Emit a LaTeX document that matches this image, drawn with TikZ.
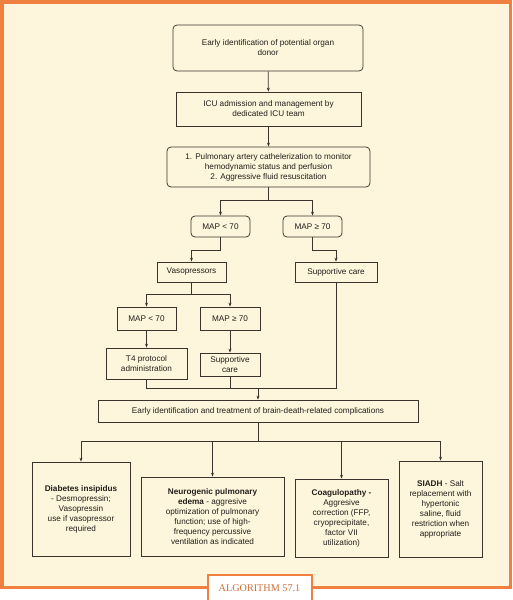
\documentclass[tikz,border=0pt]{standalone}
\usepackage{fontspec}
\setmainfont{Liberation Sans}
\newfontfamily\labelfont{Liberation Serif}
\usetikzlibrary{arrows.meta,calc}
\definecolor{cream}{RGB}{253,246,220}
\definecolor{frameorange}{RGB}{240,128,64}
\definecolor{inkc}{RGB}{60,52,44}
\definecolor{textc}{RGB}{35,30,26}
\tikzset{
  box/.style={draw=inkc, line width=0.75pt, align=center, inner sep=2pt,
    font=\fontsize{8.2}{10}\selectfont, text=textc},
  rbox/.style={box, rounded corners=4pt},
  arr/.style={draw=inkc, line width=0.75pt, -{Stealth[length=4pt,width=3pt]}},
  ln/.style={draw=inkc, line width=0.75pt},
}
\begin{document}
\begin{tikzpicture}[x=1pt,y=-1pt]
\useasboundingbox (0,0) rectangle (512,600);
\fill[white] (0,0) rectangle (512,600);
\draw[frameorange, line width=3.5pt, fill=cream] (1.75,1.75) rectangle (510.25,587.25);

\node[rbox, minimum width=190, minimum height=46] (b1) at (268,48) {Early identification of potential organ\\donor};
\node[box, minimum width=185, minimum height=34] (b2) at (268.5,109) {ICU admission and management by\\dedicated ICU team};
\node[rbox, minimum width=203, minimum height=40] (b3) at (268.5,167) {1. Pulmonary artery cathelerization to monitor\\hemodynamic status and perfusion\\2. Aggressive fluid resuscitation};
\node[rbox, minimum width=59, minimum height=21] (m1) at (220.5,226.5) {MAP {<} 70};
\node[rbox, minimum width=59, minimum height=21] (m2) at (312.5,226.5) {MAP ≥ 70};
\node[box, minimum width=69, minimum height=20] (vaso) at (191.5,272) {Vasopressors};
\node[box, minimum width=82, minimum height=20] (sc1) at (336,272) {Supportive care};
\node[box, minimum width=59, minimum height=23] (m3) at (146.5,318.5) {MAP {<} 70};
\node[box, minimum width=60, minimum height=23] (m4) at (230,318.5) {MAP ≥ 70};
\node[box, minimum width=81, minimum height=31] (t4) at (146.5,363.5) {T4 protocol\\administration};
\node[box, minimum width=60, minimum height=23] (sc2) at (230,364.5) {Supportive\\care};
\node[box, minimum width=320, minimum height=22] (big) at (258,411) {Early identification and treatment of brain-death-related complications};
\node[box, minimum width=98, minimum height=94] (di) at (81,509) {\textbf{Diabetes insipidus}\\- Desmopressin;\\Vasopressin\\use if vasopressor\\required};
\node[box, minimum width=143, minimum height=79] (npe) at (212.5,516.5) {\textbf{Neurogenic pulmonary}\\\textbf{edema} - aggresive\\optimization of pulmonary\\function; use of high-\\frequency percussive\\ventilation as indicated};
\node[box, minimum width=93, minimum height=78] (coag) at (341.5,518) {\textbf{Coagulopathy -}\\Aggresive\\correction (FFP,\\cryoprecipitate,\\factor VII\\utilization)};
\node[box, minimum width=83, minimum height=96] (siadh) at (440.5,509) {\textbf{SIADH} - Salt\\replacement with\\hypertonic\\saline, fluid\\restriction when\\appropriate};

\draw[arr] (b1) -- (b2);
\draw[arr] (b2) -- (b3);
\coordinate (j1) at (b3.south |- 0,200);
\draw[ln] (b3.south) -- (j1);
\draw[arr] (j1) -| (m1.north);
\draw[arr] (j1) -| (m2.north);
\draw[arr] (m1.south) -- (m1.south |- 0,250) -| (vaso.north);
\draw[arr] (m2.south) -- (m2.south |- 0,250) -| (sc1.north);
\coordinate (j3) at (vaso.south |- 0,294);
\draw[ln] (vaso.south) -- (j3);
\draw[arr] (j3) -| (m3.north);
\draw[arr] (j3) -| (m4.north);
\draw[arr] (m3) -- (t4);
\draw[arr] (m4) -- (sc2);
\draw[ln] (t4.south) -- (t4.south |- 0,388) -- (sc1.south |- 0,388) -- (sc1.south);
\draw[ln] (sc2.south) -- (sc2.south |- 0,388);
\coordinate (j5) at (big.north |- 0,388);
\draw[arr] (j5) -- (big.north);
\coordinate (j4) at (big.south |- 0,441);
\draw[ln] (big.south) -- (j4);
\draw[arr] (j4) -| (di.north);
\draw[arr] (j4) -| (npe.north);
\draw[arr] (j4) -| (coag.north);
\draw[arr] (j4) -| (siadh.north);

\node[draw=frameorange, line width=2pt, fill=white, minimum width=104, minimum height=26, inner sep=0pt,
  text=frameorange!85!black, font=\labelfont\fontsize{10.2}{12}\selectfont] (alg) at (259.5,588) {ALGORITHM 57.1};
\end{tikzpicture}
\end{document}
